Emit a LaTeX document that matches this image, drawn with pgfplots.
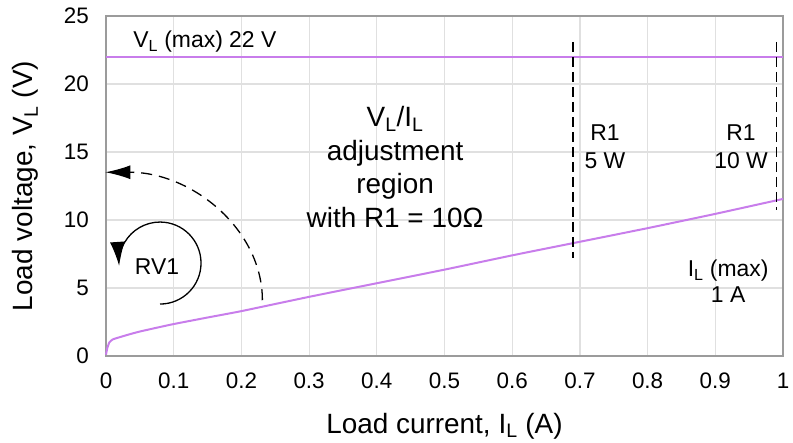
\documentclass[border=0pt]{standalone}
\usepackage{fontspec}
\setmainfont{Liberation Sans}
\usepackage{pgfplots}
\pgfplotsset{compat=1.18}
\usetikzlibrary{arrows.meta}
\definecolor{curve}{RGB}{200,125,235}
\definecolor{gridc}{RGB}{224,224,224}
\definecolor{framec}{RGB}{155,155,155}
\newcommand\ft{\fontsize{22.5}{26}\selectfont}
\newcommand\fl{\fontsize{28}{33}\selectfont}
\newcommand\fn{\fontsize{23}{27}\selectfont}

\begin{document}
\begin{tikzpicture}
\begin{axis}[
    at={(0,0)}, anchor=south west,
    scale only axis, width=677bp, height=340bp,
    xmin=0, xmax=1, ymin=0, ymax=25,
    xtick={0,0.1,0.2,0.3,0.4,0.5,0.6,0.7,0.8,0.9,1},
    ytick={0,5,10,15,20,25},
    grid=major,
    major grid style={gridc, line width=1.2bp},
    axis line style={framec, line width=1.4bp},
    major tick length=0pt,
    /pgf/number format/assume math mode=true,
    tick label style={font=\ft},
    xticklabel style={anchor=base, yshift=-32bp},
    yticklabel style={anchor=base east, inner sep=0pt, xshift=-17bp, yshift=-7.8bp},
    xlabel={Load current, I\textsubscript{L} (A)},
    ylabel={Load voltage, V\textsubscript{L} (V)},
    label style={font=\fl},
    xlabel style={at={([yshift=-77bp]axis description cs:0.5,0)}, anchor=base},
    ylabel style={at={([xshift=-73bp]axis description cs:0,0.5)}, anchor=base},
    clip=false,
]
% V_L (max) line
\addplot[curve, line width=2bp] coordinates {(0,22) (1,22)};
% load line
\addplot[curve, line width=2bp, smooth, tension=0.3] coordinates {
    (0,0.1) (0.002,0.6) (0.005,1.0) (0.01,1.22) (0.02,1.38) (0.035,1.6)
    (0.05,1.8) (0.075,2.08) (0.1,2.35) (0.15,2.83) (0.2,3.3) (0.3,4.35)
    (0.4,5.35) (0.5,6.35) (0.6,7.4) (0.7,8.4) (0.8,9.4) (0.9,10.45) (1,11.55)
};
% R1 power limits
\addplot[black, line width=1.3bp, dash pattern=on 10bp off 5bp] coordinates {(0.69,23.1) (0.69,7.2)};
\addplot[black, line width=1.3bp, dash pattern=on 10bp off 5bp] coordinates {(0.99,23.1) (0.99,10.7)};

% annotations
\node[font=\fn, anchor=base west, inner sep=0pt] at (axis cs:0.040,22.65) {V\textsubscript{L} (max) 22 V};

\node[font=\fl, anchor=base, inner sep=0pt] at (axis cs:0.427,16.84) {V\textsubscript{L}/I\textsubscript{L}};
\node[font=\fl, anchor=base, inner sep=0pt] at (axis cs:0.427,14.38) {adjustment};
\node[font=\fl, anchor=base, inner sep=0pt] at (axis cs:0.427,11.93) {region};
\node[font=\fl, anchor=base, inner sep=0pt] at (axis cs:0.427,9.47) {with R1 = 10Ω};

\node[font=\fn, anchor=base, inner sep=0pt] at (axis cs:0.737,15.88) {R1};
\node[font=\fn, anchor=base, inner sep=0pt] at (axis cs:0.737,13.82) {5 W};
\node[font=\fn, anchor=base, inner sep=0pt] at (axis cs:0.938,15.88) {R1};
\node[font=\fn, anchor=base, inner sep=0pt] at (axis cs:0.938,13.82) {10 W};

\node[font=\fn, anchor=base, inner sep=0pt] at (axis cs:0.919,5.81) {I\textsubscript{L} (max)};
\node[font=\fn, anchor=base, inner sep=0pt] at (axis cs:0.919,3.90) {1 A};

% RV1 rotation arrows
\draw[black, line width=1.3bp, dash pattern=on 11bp off 7bp, -{Latex[length=25bp,width=14bp]}]
    (axis cs:0.231,4.1) arc[start angle=0, end angle=90, x radius=157bp, y radius=128bp];
\draw[black, line width=1.3bp, -{Latex[length=24bp,width=15bp]}]
    (axis cs:0.0798,3.82) arc[start angle=-90, end angle=184, radius=41bp];
\node[font=\fn, inner sep=0pt] at (axis cs:0.0754,6.54) {RV1};
\end{axis}
\pgfresetboundingbox
\path[use as bounding box] (-106bp,-87bp) rectangle (687bp,356bp);
\end{tikzpicture}
\end{document}
